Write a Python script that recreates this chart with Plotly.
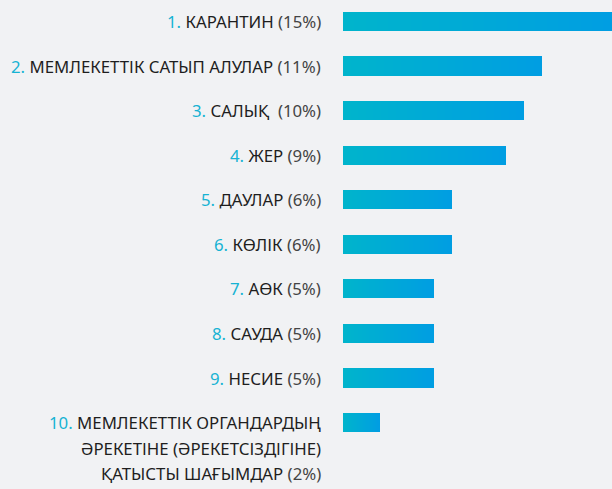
import plotly.graph_objects as go

numbers = ["1.", "2.", "3.", "4.", "5.", "6.", "7.", "8.", "9.", "10."]
names = ["КАРАНТИН", "МЕМЛЕКЕТТІК САТЫП АЛУЛАР", "САЛЫҚ ", "ЖЕР", "ДАУЛАР",
         "КӨЛІК", "АӨК", "САУДА", "НЕСИЕ",
         "МЕМЛЕКЕТТІК ОРГАНДАРДЫҢ<br>ӘРЕКЕТІНЕ (ӘРЕКЕТСІЗДІГІНЕ)<br>ҚАТЫСТЫ ШАҒЫМДАР"]
values = [15, 11, 10, 9, 6, 6, 5, 5, 5, 2]
cats = [f"c{i}" for i in range(len(values))]

BG = "#f1f2f4"
NUM_COLOR = "#17b3d3"
TXT_COLOR = "#1e1e1e"
PCT_COLOR = "#444444"
c0 = (0, 180, 204)
c1 = (0, 158, 226)

fig = go.Figure()
N = 48
for k in range(N):
    t = k / (N - 1)
    col = "rgb(%d,%d,%d)" % tuple(round(a + (b - a) * t) for a, b in zip(c0, c1))
    fig.add_trace(go.Bar(
        y=cats, x=[v * (1 - k / N) for v in values], base=[v * k / N for v in values],
        orientation="h", marker=dict(color=col, line=dict(width=0)),
        width=0.43, hoverinfo="skip", showlegend=False))

FONT = "Noto Sans"
annotations = []
for i, (n, name, v) in enumerate(zip(numbers, names, values)):
    lines = name.split("<br>")
    for j, line in enumerate(lines):
        parts = []
        if j == 0:
            parts.append(f"<span style='color:{NUM_COLOR}'>{n}</span> ")
        parts.append(f"<span style='color:{TXT_COLOR}'>{line}</span>")
        if j == len(lines) - 1:
            parts.append(f" <span style='color:{PCT_COLOR}'>({v}%)</span>")
        annotations.append(dict(
            x=0, xref="paper", y=cats[i], yref="y", xanchor="right", yanchor="middle",
            xshift=-20, yshift=-25.5 * j, text="".join(parts), showarrow=False,
            font=dict(family=FONT, size=16.8, color=TXT_COLOR), align="right"))

fig.update_layout(
    width=612, height=489, barmode="overlay", bargap=0,
    paper_bgcolor=BG, plot_bgcolor=BG,
    margin=dict(l=343, r=0, t=0, b=0),
    xaxis=dict(range=[0, 14.86], visible=False, fixedrange=True),
    yaxis=dict(type="category", categoryarray=cats, range=[10.49, -0.4825],
               visible=False, fixedrange=True),
    annotations=annotations,
    font=dict(family=FONT),
)

fig.write_html("out.html", config={"displayModeBar": False},
               post_script="document.body.style.margin='0';document.body.style.background='%s';" % BG)
